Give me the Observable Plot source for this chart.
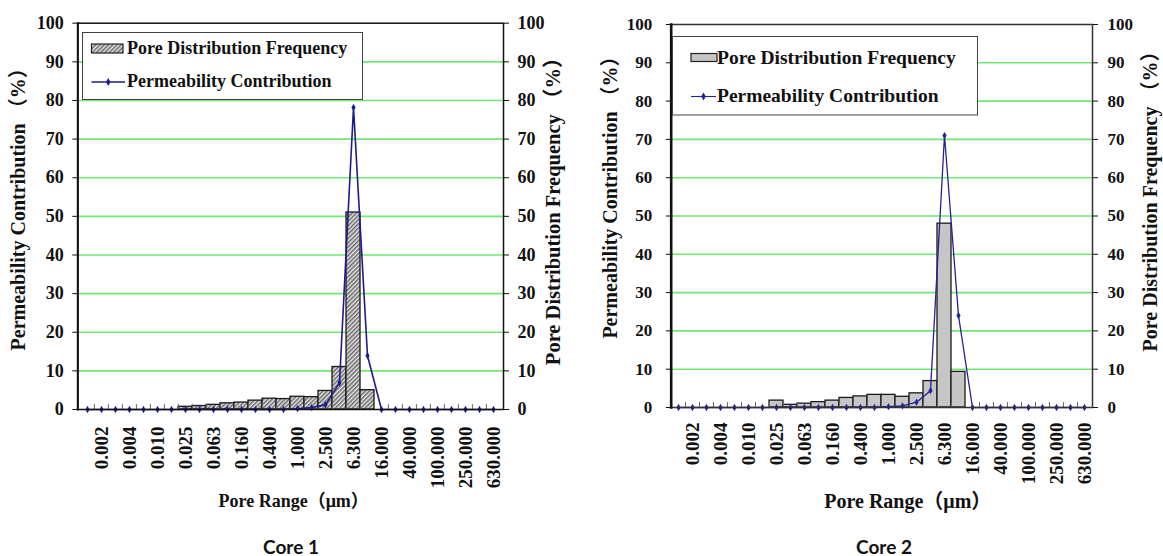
<!DOCTYPE html>
<html><head><meta charset="utf-8">
<script src="https://cdn.jsdelivr.net/npm/d3@7"></script>
<script src="https://cdn.jsdelivr.net/npm/@observablehq/plot@0.6"></script>
<style>
body{margin:0;background:#fff;}
#wrap{position:relative;width:1163px;height:556px;overflow:hidden;background:#fff;}
.chart{position:absolute;top:0;}
.legend{position:absolute;overflow:visible;}
.cap{position:absolute;font-family:Lato,"Open Sans",sans-serif;font-weight:bold;font-size:19px;color:#111;transform:translate(-50%,-50%);white-space:nowrap;}
</style></head><body><div id="wrap"></div>
<script>
// ---- data ----
const poreRange = ["0.001","0.002","0.003","0.004","0.006","0.010","0.016","0.025","0.040","0.063",
  "0.100","0.160","0.250","0.400","0.630","1.000","1.600","2.500","4.000","6.300",
  "10.000","16.000","25.000","40.000","63.000","100.000","160.000","250.000","400.000","630.000"];
const tickLabels = ["0.002","0.004","0.010","0.025","0.063","0.160","0.400","1.000","2.500","6.300",
  "16.000","40.000","100.000","250.000","630.000"];
const yTicks = [0,10,20,30,40,50,60,70,80,90,100];
const gridTicks = [10,20,30,40,50,60,70,80,90];
// Core 1
const core1Freq = [0,0,0,0,0,0,0,0.7,0.9,1.2,1.6,1.8,2.3,2.8,2.7,3.3,3.2,4.8,11.0,51.0,5.0,0,0,0,0,0,0,0,0,0];
const core1Perm = [0,0,0,0,0,0,0,0,0,0,0,0,0,0,0,0.2,0.5,1.2,6.9,78.2,13.9,0,0,0,0,0,0,0,0,0];
// Core 2
const core2Freq = [0,0,0,0,0,0,0,1.8,0.7,1.0,1.4,1.8,2.5,2.9,3.3,3.3,2.8,3.7,6.9,48.0,9.3,0,0,0,0,0,0,0,0,0];
const core2Perm = [0,0,0,0,0,0,0,0,0,0,0,0,0,0,0,0.2,0.4,1.4,4.4,71.0,24.0,0,0,0,0,0,0,0,0,0];

const leftTitle = "Permeability Contribution （%）";
const rightTitle = "Pore Distribution Frequency （%）";
const xTitle = "Pore Range（μm）";
const legendBar = "Pore Distribution Frequency";
const legendLine = "Permeability Contribution";

const SERIF = "'Liberation Serif','Times New Roman','Noto Sans CJK SC',serif";
const GREEN = "#72e872";

function build(cfg) {
  const data = poreRange.map((r, i) => ({range: r, freq: cfg.freq[i], perm: cfg.perm[i]}));
  const bw = (cfg.width - cfg.ml - cfg.mr) / poreRange.length;
  const svg = Plot.plot({
    width: cfg.width, height: 520,
    marginLeft: cfg.ml, marginRight: cfg.mr, marginTop: cfg.mt, marginBottom: cfg.mb,
    style: {fontFamily: SERIF, fontWeight: "bold", fontSize: cfg.tickFont + "px", color: "#111", background: "transparent", overflow: "visible"},
    x: {type: "band", domain: poreRange, padding: 0},
    y: {domain: [0, 100]},
    marks: [
      Plot.ruleY(gridTicks, {stroke: GREEN, strokeWidth: 1.6}),
      Plot.barY(data, {x: "range", y: "freq", fill: cfg.barFill, stroke: "#1a1a1a", strokeWidth: 1.3}),
      Plot.ruleX(poreRange.slice(1), {x: d => d, y1: 0, y2: 1.3, dx: -bw / 2, stroke: "#666", strokeWidth: 1}),
      Plot.line(data, {x: "range", y: "perm", stroke: cfg.lineColor, strokeWidth: cfg.lineWidth}),
      Plot.dot(data, {x: "range", y: "perm", fill: cfg.lineColor, r: 2.2, symbol: "diamond"}),
      Plot.frame({stroke: cfg.frameColor, strokeWidth: 1.5}),
      Plot.frame({anchor: "left", stroke: "#111", strokeWidth: cfg.leftAxisWidth}),
      Plot.axisY({anchor: "left", ticks: yTicks, tickSize: 5, tickPadding: cfg.padL, label: null, fontSize: cfg.tickFont}),
      Plot.axisY({anchor: "right", ticks: yTicks, tickSize: 5, tickPadding: cfg.padR, label: null, fontSize: cfg.tickFont}),
      Plot.axisX({ticks: tickLabels, tickRotate: -90, tickSize: 0, tickPadding: cfg.padX, label: null, fontSize: 19}),
      Plot.text([leftTitle], {text: d => d, frameAnchor: "left", dx: cfg.ltDx, dy: cfg.ltDy, rotate: -90, textAnchor: "middle", lineAnchor: "middle", fontSize: 20, fontWeight: "bold"}),
      Plot.text([rightTitle], {text: d => d, frameAnchor: "right", dx: cfg.rtDx, dy: cfg.rtDy, rotate: -90, textAnchor: "middle", lineAnchor: "middle", fontSize: cfg.rtFont, fontWeight: "bold"}),
      Plot.text([xTitle], {text: d => d, frameAnchor: "bottom", dx: cfg.xtDx, dy: cfg.xtDy, textAnchor: "middle", lineAnchor: "top", fontSize: cfg.xtFont, fontWeight: "bold"})
    ]
  });
  d3.select(svg).insert("defs", ":first-child").html(
    `<pattern id="hatch${cfg.id}" patternUnits="userSpaceOnUse" width="3" height="3" patternTransform="rotate(45)">
       <rect width="3" height="3" fill="#e6e6e6"/><line x1="0.8" y1="0" x2="0.8" y2="3" stroke="#4a4a4a" stroke-width="1.2"/></pattern>`);
  svg.classList.add("chart");
  svg.style.left = cfg.left + "px";
  return svg;
}

const wrap = document.getElementById("wrap");

wrap.appendChild(build({
  id: 1, left: 0, width: 580, ml: 77.3, mr: 77, mt: 22.7, mb: 111,
  freq: core1Freq, perm: core1Perm, barFill: "url(#hatch1)", lineColor: "#1c1c8c", lineWidth: 1.6,
  frameColor: "#111", leftAxisWidth: 2, tickFont: 18, padL: 9, padR: 9, padX: 17,
  ltDx: -59.3, ltDy: -12, rtDx: 50, rtDy: -10, rtFont: 20.5, xtDx: 3, xtDy: 85, xtFont: 18
}));
wrap.appendChild(build({
  id: 2, left: 580, width: 583, ml: 90.7, mr: 71, mt: 24, mb: 113,
  freq: core2Freq, perm: core2Perm, barFill: "#c6c6c6", lineColor: "#22229a", lineWidth: 1.3,
  frameColor: "#333", leftAxisWidth: 2.6, tickFont: 17, padL: 14, padR: 10, padX: 15,
  ltDx: -60.7, ltDy: -23.5, rtDx: 58, rtDy: -19.5, rtFont: 20, xtDx: 26, xtDy: 86, xtFont: 20
}));

// ---- legends (decoration) ----
function legend(o) {
  const s = d3.create("svg").attr("class", "legend").attr("width", o.w).attr("height", o.h)
    .style("left", o.x + "px").style("top", o.y + "px");
  s.append("defs").html(`<pattern id="lh${o.id}" patternUnits="userSpaceOnUse" width="3" height="3" patternTransform="rotate(45)">
       <rect width="3" height="3" fill="#e6e6e6"/><line x1="0.8" y1="0" x2="0.8" y2="3" stroke="#4a4a4a" stroke-width="1.2"/></pattern>`);
  s.append("rect").attr("x", 0.5).attr("y", 0.5).attr("width", o.w - 1).attr("height", o.h - 1)
    .attr("fill", "#fff").attr("stroke", "#444").attr("stroke-width", 1);
  s.append("rect").attr("x", o.sx).attr("y", o.ry).attr("width", o.sw).attr("height", o.rh)
    .attr("fill", o.id === 1 ? "url(#lh1)" : "#c6c6c6").attr("stroke", "#222").attr("stroke-width", 1.2);
  s.append("line").attr("x1", o.sx).attr("x2", o.sx + o.lw).attr("y1", o.ly).attr("y2", o.ly)
    .attr("stroke", o.color).attr("stroke-width", o.lineWidth);
  s.append("path").attr("d", d3.symbol(d3.symbolDiamond, 18)()).attr("transform", `translate(${o.sx + o.lw / 2},${o.ly})`).attr("fill", o.color);
  const t = (txt, y) => s.append("text").attr("x", o.tx).attr("y", y).text(txt)
    .attr("font-family", SERIF).attr("font-weight", "bold").attr("font-size", o.font).attr("fill", "#111");
  t(legendBar, o.t1);
  t(legendLine, o.t2);
  wrap.appendChild(s.node());
}
legend({id: 1, x: 82, y: 31.5, w: 281, h: 68, sx: 9.5, sw: 31.5, ry: 12, rh: 9, lw: 33.5, ly: 50, tx: 45, t1: 22, t2: 55, font: 18, color: "#1c1c8c", lineWidth: 1.6});
legend({id: 2, x: 672, y: 35.5, w: 306, h: 79.5, sx: 19, sw: 26, ry: 17.5, rh: 8, lw: 25, ly: 60.5, tx: 45, t1: 28, t2: 66, font: 19.5, color: "#22229a", lineWidth: 1.1});

// ---- captions ----
[["Core 1", 291], ["Core 2", 884]].forEach(([txt, x]) => {
  const d = document.createElement("div");
  d.className = "cap"; d.textContent = txt;
  d.style.left = x + "px"; d.style.top = "546px";
  wrap.appendChild(d);
});
</script></body></html>
